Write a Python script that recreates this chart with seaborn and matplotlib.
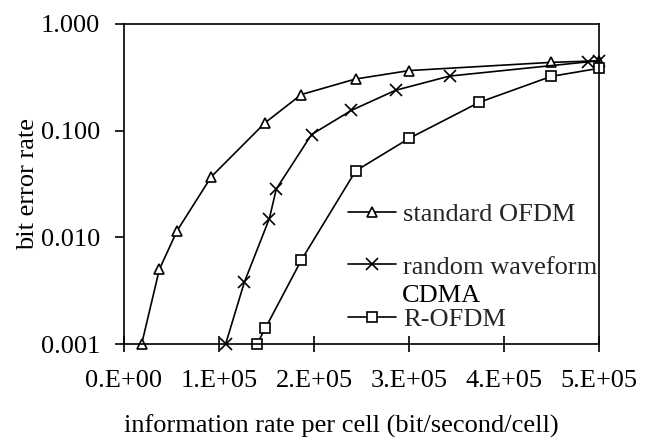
import numpy as np
import pandas as pd
import matplotlib
matplotlib.use("Agg")
import matplotlib.pyplot as plt
from matplotlib.ticker import FixedLocator, FixedFormatter, NullLocator
import seaborn as sns

# values
rate_ofdm = [18600, 37200, 55800, 91900, 148700, 186600, 243700, 300300, 449800, 500000]
ber_ofdm = [0.001, 0.005, 0.0115, 0.037, 0.119, 0.218, 0.305, 0.366, 0.437, 0.452]

rate_cdma = [107000, 126700, 153000, 160300, 197400, 239400, 285800, 342800, 488600, 500000]
ber_cdma = [0.001, 0.0038, 0.015, 0.0284, 0.092, 0.155, 0.239, 0.325, 0.442, 0.452]

rate_rofdm = [140000, 148700, 186600, 243900, 300300, 374000, 449800, 500000]
ber_rofdm = [0.001, 0.0014, 0.0061, 0.042, 0.0848, 0.1845, 0.323, 0.384]

series_names = ["standard OFDM", "random waveform", "R-OFDM"]
series_markers = ["^", "x", "s"]
x_ticks = [0, 100000, 200000, 300000, 400000, 500000]
x_tick_labels = ["0.E+00", "1.E+05", "2.E+05", "3.E+05", "4.E+05", "5.E+05"]
y_ticks = [0.001, 0.01, 0.1, 1.0]
y_tick_labels = ["0.001", "0.010", "0.100", "1.000"]

frames = [
    pd.DataFrame({"rate": rate_ofdm, "ber": ber_ofdm}),
    pd.DataFrame({"rate": rate_cdma, "ber": ber_cdma}),
    pd.DataFrame({"rate": rate_rofdm, "ber": ber_rofdm}),
]

sns.set_theme(style="ticks")
plt.rcParams["font.family"] = ["Liberation Serif", "DejaVu Serif"]
plt.rcParams["axes.linewidth"] = 1.2

FS = 19

fig = plt.figure(figsize=(6.51, 4.40), dpi=100)
ax = fig.add_axes([124 / 651, 1 - 344 / 440, 475 / 651, 320 / 440])
ax.set_yscale("log")

for d, m in zip(frames, series_markers):
    sns.lineplot(
        data=d, x="rate", y="ber", color="black", marker=m,
        markersize=8 if m == "x" else 7, markerfacecolor="white",
        markeredgecolor="black", markeredgewidth=1.2, linewidth=1.2,
        sort=False, clip_on=False, ax=ax,
    )

ax.set_xlim(0, 500000)
ax.set_ylim(0.001, 1.0)
ax.xaxis.set_major_locator(FixedLocator(x_ticks))
ax.xaxis.set_major_formatter(FixedFormatter(x_tick_labels))
ax.yaxis.set_major_locator(FixedLocator(y_ticks))
ax.yaxis.set_major_formatter(FixedFormatter(y_tick_labels))
ax.yaxis.set_minor_locator(NullLocator())
ax.xaxis.set_minor_locator(NullLocator())

ax.tick_params(axis="x", direction="inout", length=12, width=1.2, pad=13,
               labelsize=FS, colors="black")
ax.tick_params(axis="y", direction="out", length=6.5, width=1.2, pad=10.5,
               labelsize=FS, colors="black")
for s in ax.spines.values():
    s.set_color("black")
    s.set_linewidth(1.2)

ax.set_xlabel("information rate per cell (bit/second/cell)", fontsize=FS, color="black")
ax.set_ylabel("bit error rate", fontsize=FS, color="black")
ax.xaxis.set_label_coords(0.457, -0.222)
ax.yaxis.set_label_coords(-0.178, 0.5)

handles = ax.get_lines()[:3]
leg = ax.legend(handles, series_names, loc="upper left",
                bbox_to_anchor=(0.4716, 0.442), frameon=False, fontsize=FS,
                borderpad=0, borderaxespad=0, handlelength=1.8,
                handletextpad=0.28, labelspacing=1.1)
# second line of the wrapped "random waveform CDMA" legend label
ax.text(0.585, 0.15, "CDMA", transform=ax.transAxes, ha="left",
        va="center", fontsize=FS, color="black", zorder=10)

fig.savefig("out.png", dpi=100)
